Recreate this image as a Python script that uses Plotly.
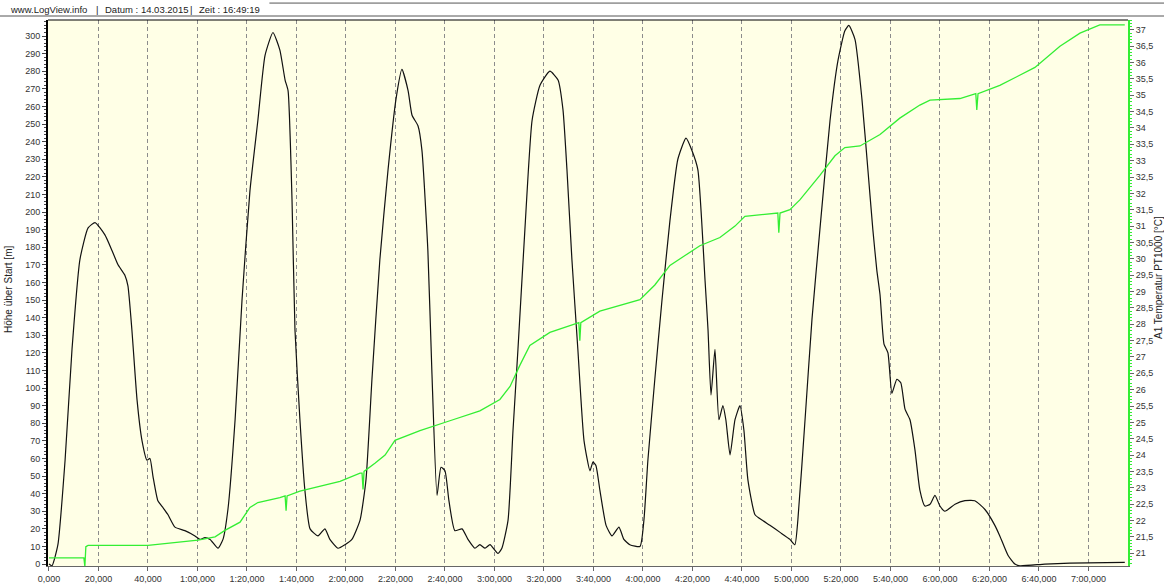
import plotly.graph_objects as go

# ---- data (time in seconds) ----
alt_t = [0, 1.2, 3.6, 6.5, 9.3, 12.5, 15.8, 18.6, 22.6, 25.5, 27.9, 30.7, 31.9, 33.5, 35.6, 37.6,
         39.6, 40.8, 42.0, 44.0, 46.1, 48.1, 50.9, 54.9, 59.0, 61.0, 63.0, 65.1, 68.3, 70.3, 72.3,
         75.2, 78.0, 81.2, 84.4, 87.3, 90.5, 93.3, 95.4, 96.6, 98.2, 99.4, 101.4, 103.4, 105.5,
         108.7, 111.5, 113.5, 116.8, 119.6, 122.4, 125.7, 128.1, 130.5, 133.7, 137.0, 140.2, 142.6,
         145.1, 146.7, 149.1, 150.7, 153.1, 154.7, 156.8, 158.4, 160.0, 161.6, 164.0, 166.9, 169.3,
         172.1, 174.1, 176.2, 178.2, 181.4, 183.0, 185.5, 187.5, 189.5, 192.3, 195.2, 198.4, 202.4,
         205.7, 207.7, 209.3, 211.3, 213.7, 216.2, 218.6, 219.8, 221.0, 222.6, 225.1, 227.5, 230.3,
         232.3, 234.7, 238.8, 240.4, 242.0, 244.8, 247.7, 250.9, 254.1, 257.4, 259.8, 262.2, 265.1,
         266.3, 267.5, 269.1, 270.7, 272.3, 273.5, 275.2, 277.2, 279.2, 280.8, 282.4, 285.3, 288.1,
         291.3, 295.4, 299.4, 301.4, 302.6, 305.5, 308.3, 311.5, 315.6, 318.8, 321.6, 323.2, 325.7,
         328.5, 330.9, 332.9, 334.5, 335.8, 337.4, 339.0, 340.6, 342.6, 344.2, 345.9, 347.9, 349.9,
         351.9, 353.9, 356.0, 358.0, 360.0, 362.0, 366.1, 370.1, 374.1, 378.2, 382.2, 384.2, 387.5,
         390.3, 392.3, 402.4, 412.5, 434.7]
alt_m = [0, -1, 11, 59, 122, 173, 191, 194, 187, 178, 170, 164, 158, 133, 93, 70,
         59, 60, 50, 36, 32, 28, 21, 19, 16, 14, 15, 14, 9, 14, 31,
         82, 150, 212, 252, 289, 302, 292, 275, 269, 207, 133, 82, 42, 20,
         16, 20, 14, 9, 11, 14, 25, 48, 105, 173, 224, 264, 281,
         269, 255, 249, 235, 178, 110, 39, 55, 53, 36, 19, 20, 14,
         9, 11, 9, 11, 6, 9, 25, 76, 122, 190, 252, 272, 280,
         275, 258, 224, 173, 122, 70, 53, 58, 56, 42, 22, 16, 21,
         14, 11, 10, 25, 59, 105, 150, 195, 230, 242, 235, 224, 161,
         133, 96, 122, 82, 90, 82, 62, 82, 90, 76, 48, 28, 25,
         22, 18, 14, 11, 25, 82, 139, 190, 252, 286, 303, 306, 298,
         264, 224, 190, 167, 153, 125, 120, 97, 105, 103, 88, 82, 65,
         42, 33, 34, 39, 33, 30, 34, 36, 36, 31, 22, 16, 5,
         0, -1, 0, 0.5, 1]

temp_t = [0, 14.1, 14.5, 14.9, 15.8, 40.0, 60.2, 67.1, 71.1, 77.2, 81.2, 84.4, 93.3, 95.4, 95.8,
          96.2, 101.4, 117.6, 125.7, 126.5, 126.9, 127.3, 131.7, 135.8, 139.8, 149.9, 162.0, 174.1,
          182.2, 186.3, 190.3, 194.3, 202.4, 210.5, 214.1, 214.5, 214.9, 222.6, 238.8, 244.8, 250.9,
          257.0, 263.0, 271.1, 277.2, 281.2, 294.5, 294.9, 295.4, 299.4, 303.4, 311.5, 317.6, 321.6,
          327.7, 335.8, 343.8, 351.9, 356.0, 368.1, 374.5, 374.9, 375.4, 384.2, 398.4, 408.5, 416.6,
          424.6, 434.7]
temp_c = [20.86, 20.86, 20.6, 21.2, 21.24, 21.24, 21.4, 21.5, 21.7, 21.95, 22.4, 22.55, 22.7, 22.75, 22.3,
          22.75, 22.9, 23.2, 23.45, 23.45, 22.95, 23.5, 23.75, 24.0, 24.45, 24.75, 25.05, 25.35,
          25.7, 26.1, 26.75, 27.35, 27.75, 27.95, 28.05, 27.5, 28.05, 28.4, 28.75, 29.2, 29.8,
          30.1, 30.4, 30.65, 31.0, 31.3, 31.4, 30.8, 31.4, 31.5, 31.8, 32.55, 33.15, 33.4,
          33.45, 33.8, 34.3, 34.7, 34.85, 34.9, 35.05, 34.55, 35.05, 35.3, 35.85, 36.5, 36.9,
          37.15, 37.15]

x_tickvals = [0, 20, 40, 60, 80, 100, 120, 140, 160, 180, 200, 220, 240, 260, 280, 300, 320, 340,
              360, 380, 400, 420]
x_ticktext = ["0,000", "20,000", "40,000", "1:00,000", "1:20,000", "1:40,000", "2:00,000",
              "2:20,000", "2:40,000", "3:00,000", "3:20,000", "3:40,000", "4:00,000", "4:20,000",
              "4:40,000", "5:00,000", "5:20,000", "5:40,000", "6:00,000", "6:20,000", "6:40,000",
              "7:00,000"]

header_parts = ["www.LogView.info", "|", "Datum : 14.03.2015", "|", "Zeit : 16:49:19"]
left_title = "Höhe über Start [m]"
right_title = "A1 Temperatur PT1000 [°C]"

GREEN = "#33EE33"
FONT = "Liberation Sans, Arial, sans-serif"
TICK = dict(size=9, color="#333333")

fig = go.Figure()
fig.add_trace(go.Scatter(x=alt_t, y=alt_m, mode="lines",
                         line=dict(color="#111111", width=1.2, shape="spline", smoothing=0.5),
                         yaxis="y", showlegend=False, hoverinfo="skip"))
fig.add_trace(go.Scatter(x=temp_t, y=temp_c, mode="lines", line=dict(color=GREEN, width=1.3),
                         yaxis="y2", showlegend=False, hoverinfo="skip"))

fig.update_layout(
    width=1164, height=585,
    margin=dict(l=48, r=36, t=20, b=19, autoexpand=False),
    paper_bgcolor="white",
    plot_bgcolor="#FFFFE6",
    separators=",.",
    font=dict(family=FONT, size=10, color="#333333"),
    xaxis=dict(range=[-0.4, 436], tickvals=x_tickvals, ticktext=x_ticktext, automargin=False,
               showgrid=True, gridcolor="#8c8c8c", griddash="4px,3px", gridwidth=1,
               showline=True, linecolor="#666666", linewidth=1,
               ticks="outside", ticklen=4, tickcolor="#666666",
               tickfont=TICK, zeroline=False),
    yaxis=dict(range=[-1.1, 309.1], dtick=10, tick0=0, showgrid=False, zeroline=False,
               automargin=False,
               showline=True, linecolor="#000000", linewidth=2,
               ticks="outside", ticklen=4, tickcolor="#444444",
               minor=dict(dtick=2, ticks="outside", ticklen=2, tickcolor="#444444"),
               tickfont=TICK),
    yaxis2=dict(range=[20.61, 37.30], dtick=0.5, tick0=21, overlaying="y", side="right",
                showgrid=False, zeroline=False, automargin=False,
                showline=True, linecolor=GREEN, linewidth=2,
                ticks="outside", ticklen=4, tickcolor="#666666",
                minor=dict(dtick=0.1, ticks="outside", ticklen=2, tickcolor=GREEN),
                tickfont=TICK),
)

# frame top line and header lines
fig.add_shape(type="line", xref="paper", yref="paper", x0=0, x1=1, y0=1, y1=1,
              line=dict(color="#000000", width=1))
fig.add_shape(type="line", xref="paper", yref="paper", x0=-0.045, x1=1.034, y0=1.0073, y1=1.0073,
              line=dict(color="#555555", width=1))
fig.add_shape(type="line", xref="paper", yref="paper", x0=0.205, x1=1.034, y0=1.031, y1=1.031,
              line=dict(color="#555555", width=1))

# header pieces: pixel left edges
header_px = [12, 98, 107, 192, 201]
for txt, px in zip(header_parts, header_px):
    fig.add_annotation(text=txt, xref="paper", yref="paper", x=(px - 48) / 1080, y=1.0195,
                       xanchor="left", yanchor="middle", showarrow=False, xshift=-2,
                       borderpad=0, borderwidth=0,
                       font=dict(family=FONT, size=9.5, color="#222222"))
fig.add_annotation(text=left_title, xref="paper", yref="paper", x=(8 - 48) / 1080, y=(566 - 290) / 546,
                   textangle=-90, xanchor="center", yanchor="middle", showarrow=False,
                   font=dict(family=FONT, size=10, color="#222222"))
fig.add_annotation(text=right_title, xref="paper", yref="paper", x=(1158 - 48) / 1080, y=(566 - 278) / 546,
                   textangle=-90, xanchor="center", yanchor="middle", showarrow=False,
                   font=dict(family=FONT, size=10, color="#222222"))

fig.write_html("out.html", config={"displayModeBar": False},
               post_script="document.body.style.margin='0px';document.body.style.overflow='hidden';")
